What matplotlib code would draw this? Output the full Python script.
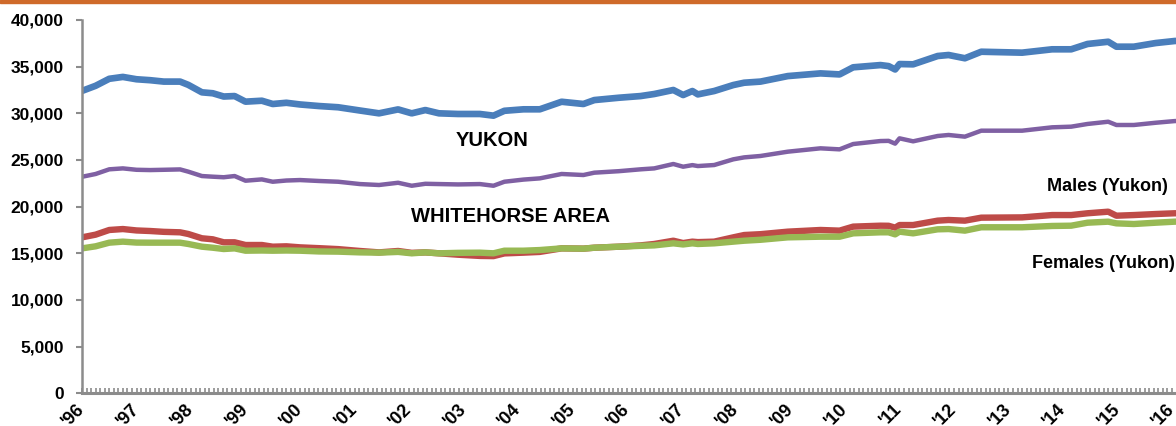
import numpy as np
import matplotlib
matplotlib.use("Agg")
import matplotlib.pyplot as plt
import matplotlib.transforms as mtransforms
from matplotlib.patches import Rectangle
from matplotlib.ticker import FixedLocator, FuncFormatter

plt.rcParams['font.family'] = ['Liberation Sans', 'DejaVu Sans']

# даты (десятичные годы) и значения
dates = [1996.0, 1996.25, 1996.5, 1996.75, 1997.0, 1997.25, 1997.5, 1997.8, 1997.95,
         1998.2, 1998.4, 1998.6, 1998.8, 1999.0, 1999.3, 1999.5, 1999.75, 2000.0,
         2000.35, 2000.7, 2001.1, 2001.45, 2001.8, 2002.05, 2002.3, 2002.55, 2002.9,
         2003.3, 2003.55, 2003.75, 2004.1, 2004.4, 2004.8, 2005.2, 2005.4, 2005.85,
         2006.25, 2006.5, 2006.85, 2007.03, 2007.2, 2007.3, 2007.6, 2007.95, 2008.15,
         2008.45, 2008.95, 2009.55, 2009.9, 2010.15, 2010.65, 2010.8, 2010.92, 2011.0,
         2011.25, 2011.7, 2011.9, 2012.2, 2012.5, 2013.25, 2013.8, 2014.15, 2014.45,
         2014.83, 2014.98, 2015.3, 2015.7, 2016.05, 2016.3]

yukon = [32400, 32950, 33700, 33900, 33650, 33550, 33400, 33400, 33050,
         32250, 32150, 31800, 31850, 31250, 31350, 31000, 31130, 30950,
         30780, 30650, 30300, 30000, 30420, 30000, 30350, 30000, 29930,
         29930, 29750, 30270, 30430, 30430, 31240, 31000, 31420, 31670,
         31850, 32070, 32500, 31960, 32390, 32030, 32390, 33030, 33280,
         33400, 33990, 34280, 34170, 34930, 35170, 35060, 34700, 35280,
         35250, 36140, 36250, 35900, 36600, 36500, 36860, 36860, 37430,
         37670, 37140, 37140, 37530, 37750, 37800]

whitehorse = [23200, 23500, 24000, 24100, 23950, 23920, 23950, 23990, 23750,
              23280, 23210, 23150, 23280, 22780, 22920, 22670, 22800, 22850,
              22750, 22670, 22420, 22320, 22560, 22240, 22450, 22420, 22380,
              22420, 22240, 22670, 22900, 23030, 23500, 23390, 23640, 23800,
              24000, 24100, 24570, 24280, 24450, 24350, 24460, 25070, 25280,
              25430, 25890, 26250, 26140, 26710, 27030, 27050, 26750, 27320,
              27000, 27570, 27680, 27500, 28140, 28140, 28500, 28570, 28860,
              29100, 28750, 28750, 28990, 29170, 29200]

males = [16710, 17000, 17500, 17600, 17450, 17390, 17300, 17250, 17070,
         16610, 16500, 16180, 16180, 15890, 15890, 15710, 15750, 15640,
         15550, 15450, 15250, 15100, 15250, 15050, 15100, 15000, 14850,
         14720, 14700, 14990, 15070, 15150, 15530, 15500, 15600, 15710,
         15850, 16000, 16350, 16100, 16250, 16200, 16250, 16710, 16960,
         17050, 17320, 17500, 17430, 17860, 17960, 17950, 17750, 18030,
         18030, 18500, 18570, 18500, 18820, 18850, 19100, 19100, 19290,
         19460, 19030, 19100, 19210, 19290, 19300]

females = [15530, 15750, 16140, 16250, 16150, 16140, 16140, 16140, 16000,
           15710, 15600, 15460, 15530, 15280, 15300, 15280, 15300, 15280,
           15200, 15180, 15100, 15070, 15150, 15000, 15100, 15000, 15050,
           15070, 15000, 15280, 15280, 15350, 15530, 15500, 15600, 15710,
           15800, 15850, 16070, 15950, 16070, 16000, 16070, 16250, 16350,
           16450, 16710, 16780, 16780, 17140, 17250, 17250, 17030, 17320,
           17140, 17570, 17600, 17430, 17790, 17790, 17930, 17960, 18280,
           18390, 18210, 18140, 18280, 18390, 18400]

years = list(range(1996, 2017))
year_labels = ["'" + str(y)[2:] for y in years]

fig = plt.figure(figsize=(11.76, 4.26), dpi=100)
W, H = 1176, 426
ax = fig.add_axes([82 / W, 1 - 393.3 / H, (W - 82) / W, (393.3 - 20) / H])

# оранжевая полоса сверху
fig.patches.append(Rectangle((0, 1 - 3 / H), 1, 3 / H, transform=fig.transFigure,
                             color='#CF6A2A', zorder=0))

ax.plot(dates, yukon, color='#4A7EBB', lw=4.8, solid_joinstyle='round', solid_capstyle='butt')
ax.plot(dates, whitehorse, color='#7F60A3', lw=3.2, solid_joinstyle='round', solid_capstyle='butt')
ax.plot(dates, males, color='#BE4B48', lw=4.6, solid_joinstyle='round', solid_capstyle='butt')
ax.plot(dates, females, color='#98B954', lw=4.6, solid_joinstyle='round', solid_capstyle='butt')

ax.set_xlim(1996, 1996 + (W - 82) / 54.5)
ax.set_ylim(0, 40000)

ax.text(2003.52, 27140, 'YUKON', fontsize=14.5, fontweight='bold', ha='center', va='center')
ax.text(2003.87, 18920, 'WHITEHORSE AREA', fontsize=14.5, fontweight='bold', ha='center', va='center')
ax.text(2015.93, 22140, 'Males (Yukon)', fontsize=13, fontweight='bold', ha='right', va='center')
ax.text(2016.06, 13960, 'Females (Yukon)', fontsize=13, fontweight='bold', ha='right', va='center')

for s in ['top', 'right']:
    ax.spines[s].set_visible(False)
ax.spines['left'].set_color('#8C8C8C')
ax.spines['left'].set_linewidth(1.8)
ax.spines['bottom'].set_color('#8C8C8C')
ax.spines['bottom'].set_linewidth(2.2)

ax.set_yticks(np.arange(0, 40001, 5000))
ax.yaxis.set_major_formatter(FuncFormatter(lambda v, p: f'{int(v):,}'))
ax.tick_params(axis='y', direction='out', length=4, width=1.5, color='#8C8C8C',
               labelsize=12.5, pad=9)
for lab in ax.get_yticklabels():
    lab.set_fontweight('bold')

ax.set_xticks(years)
ax.set_xticklabels(year_labels, rotation=45, ha='right', va='top',
                   fontsize=13, fontweight='bold')
ax.xaxis.set_minor_locator(FixedLocator(np.arange(1996, 2016.1, 1 / 12)))
ax.tick_params(axis='x', which='both', direction='in', length=3.5, width=1.2,
               color='#8C8C8C', pad=5)
offset = mtransforms.ScaledTranslation(6 / 100, 0, fig.dpi_scale_trans)
for lab in ax.get_xticklabels():
    lab.set_transform(lab.get_transform() + offset)

fig.savefig('out.png', dpi=100)
